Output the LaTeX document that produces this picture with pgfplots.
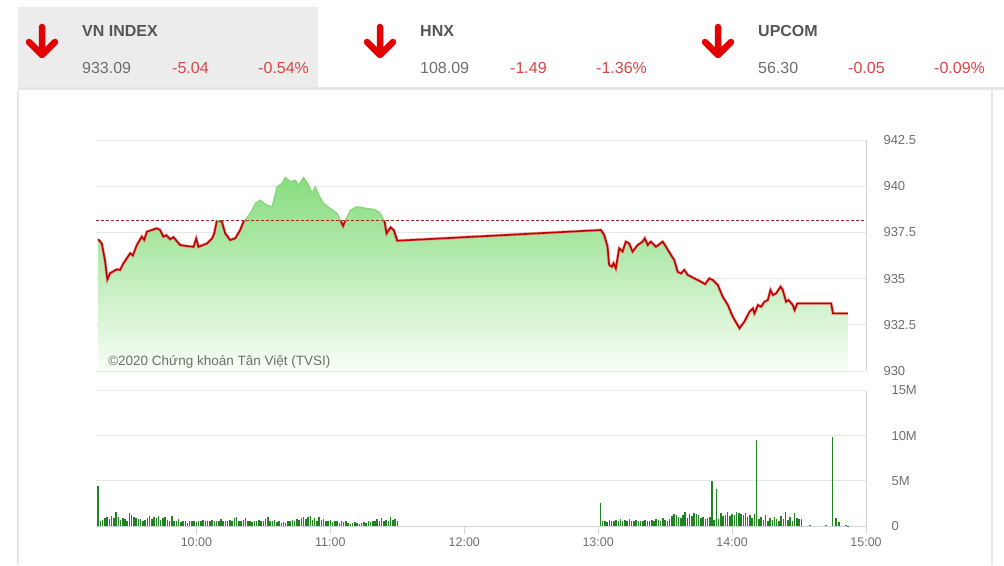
\documentclass[border=0pt]{standalone}
\usepackage{fontspec}
\setmainfont{Liberation Sans}
\usepackage{pgfplots}
\pgfplotsset{compat=1.18}
\usepackage{pgfplotstable}

\definecolor{gridgray}{RGB}{230,230,230}
\definecolor{axisgray}{RGB}{208,212,220}
\definecolor{labelgray}{RGB}{110,110,110}
\definecolor{namegray}{RGB}{85,85,85}
\definecolor{downred}{RGB}{221,68,68}
\definecolor{arrowred}{RGB}{226,0,0}
\definecolor{boxgray}{RGB}{236,236,236}
\definecolor{linered}{RGB}{190,0,0}
\definecolor{glowred}{RGB}{235,90,90}
\definecolor{edgegreen}{RGB}{125,212,115}
\definecolor{filltop}{RGB}{135,220,125}
\definecolor{fillbot}{RGB}{248,254,246}
\definecolor{volgreen}{RGB}{35,130,35}
\definecolor{refred}{RGB}{170,30,30}

% VN-Index, minutes after 9:00
\pgfplotstableread[row sep=\\]{
m v\\
16.0 937.13\\ 17.6 936.90\\ 19.0 936.00\\ 20.1 934.96\\ 21.3 935.29\\ 24.3 935.50\\
25.8 935.47\\ 27.3 935.83\\ 30.3 936.37\\ 31.5 936.25\\ 33.3 936.82\\ 35.5 937.27\\
36.6 937.10\\ 37.8 937.54\\ 40.0 937.63\\ 42.2 937.72\\ 43.7 937.63\\ 45.2 937.27\\
46.5 937.35\\ 48.2 937.13\\ 49.7 937.24\\ 52.7 936.82\\ 55.7 936.76\\ 58.7 936.72\\
59.9 937.17\\ 60.9 936.72\\ 64.7 936.90\\ 67.0 937.17\\ 68.0 937.45\\ 69.2 938.17\\
71.4 938.08\\ 72.9 937.45\\ 75.1 937.09\\ 77.4 937.18\\ 79.6 937.63\\ 81.1 938.08\\
84.1 938.53\\ 86.4 939.07\\ 88.6 939.25\\ 91.6 938.98\\ 93.9 938.89\\ 96.1 939.97\\
98.3 940.15\\ 99.8 940.48\\ 102.1 940.24\\ 104.3 940.33\\ 105.8 940.06\\ 108.0 940.48\\
110.3 940.06\\ 111.8 939.61\\ 113.3 939.97\\ 114.8 939.52\\ 117.0 939.07\\ 120.0 938.80\\
123.0 938.53\\ 124.5 938.17\\ 125.7 937.85\\ 126.8 938.17\\ 129.0 938.71\\ 132.0 938.89\\
136.5 938.80\\ 139.5 938.75\\ 141.7 938.62\\ 143.2 938.35\\ 144.3 938.08\\ 145.2 937.45\\
147.0 937.77\\ 148.4 937.63\\ 150.0 937.05\\
241.2 937.63\\ 242.7 937.36\\ 244.2 936.73\\ 244.9 935.74\\ 246.1 935.64\\ 246.9 935.83\\
247.9 935.56\\ 249.4 936.64\\ 250.9 936.46\\ 252.4 937.00\\ 253.9 936.90\\ 255.4 936.46\\
257.7 936.82\\ 259.9 937.00\\ 260.9 937.18\\ 262.2 936.82\\ 263.6 937.00\\ 265.9 936.72\\
268.9 937.00\\ 270.4 936.72\\ 272.6 936.28\\ 274.1 936.00\\ 275.6 935.37\\ 277.1 935.28\\
278.6 935.47\\ 280.1 935.20\\ 283.1 935.01\\ 286.1 934.83\\ 287.9 934.70\\ 289.8 935.01\\
291.4 934.92\\ 293.6 934.65\\ 295.8 934.02\\ 298.1 933.57\\ 300.3 932.94\\ 303.3 932.31\\
305.5 932.67\\ 307.8 933.21\\ 309.3 933.39\\ 310.0 933.12\\ 311.6 933.57\\ 313.0 933.48\\
314.5 933.75\\ 316.0 933.84\\ 317.2 934.38\\ 318.3 934.11\\ 319.7 934.20\\ 321.7 934.56\\
322.7 934.38\\ 324.2 933.75\\ 325.3 933.84\\ 327.2 933.57\\ 328.0 933.30\\ 329.2 933.66\\
344.4 933.66\\ 345.2 933.12\\ 351.9 933.12\\
}\price

% volume, millions of shares
\pgfplotstableread[row sep=\\]{
m v\\
16 4.4\\ 17 0.5\\ 18 0.7\\ 19 0.9\\ 20 1.0\\ 21 0.8\\ 22 1.1\\ 23 0.9\\ 24 1.6\\ 25 1.0\\
26 0.7\\ 27 0.9\\ 28 0.8\\ 29 0.6\\ 30 1.4\\ 31 1.2\\ 32 1.0\\ 33 0.9\\ 34 0.8\\ 35 0.8\\
36 0.6\\ 37 0.7\\ 38 0.9\\ 39 1.1\\ 40 0.8\\ 41 1.0\\ 42 0.9\\ 43 1.1\\ 44 0.7\\ 45 0.9\\
46 1.0\\ 47 0.7\\ 48 0.6\\ 49 1.1\\ 50 0.5\\ 51 0.6\\ 52 0.8\\ 53 0.4\\ 54 0.6\\ 55 0.5\\
56 0.3\\ 57 0.6\\ 58 0.5\\ 59 0.6\\ 60 0.4\\ 61 0.6\\ 62 0.5\\ 63 0.7\\ 64 0.5\\ 65 0.6\\
66 0.5\\ 67 0.7\\ 68 0.6\\ 69 0.5\\ 70 0.6\\ 71 0.8\\ 72 0.5\\ 73 0.6\\ 74 0.5\\ 75 0.7\\
76 0.6\\ 77 0.9\\ 78 1.0\\ 79 0.6\\ 80 0.5\\ 81 0.7\\ 82 0.9\\ 83 0.6\\ 84 0.5\\ 85 0.4\\
86 0.6\\ 87 0.5\\ 88 0.7\\ 89 0.6\\ 90 0.5\\ 91 0.8\\ 92 1.0\\ 93 0.6\\ 94 0.5\\ 95 0.7\\
96 0.4\\ 97 0.5\\ 98 0.3\\ 99 0.4\\ 100 0.3\\ 101 0.6\\ 102 0.5\\ 103 0.7\\ 104 0.6\\ 105 0.8\\
106 0.7\\ 107 0.9\\ 108 1.0\\ 109 0.8\\ 110 1.0\\ 111 1.1\\ 112 0.7\\ 113 0.9\\ 114 0.6\\ 115 1.0\\
116 0.7\\ 117 0.8\\ 118 0.5\\ 119 0.6\\ 120 0.7\\ 121 0.4\\ 122 0.5\\ 123 0.6\\ 124 0.3\\ 125 0.5\\
126 0.4\\ 127 0.6\\ 128 0.3\\ 129 0.2\\ 130 0.3\\ 131 0.4\\ 132 0.3\\ 133 0.2\\ 134 0.3\\ 135 0.4\\
136 0.3\\ 137 0.5\\ 138 0.4\\ 139 0.6\\ 140 0.5\\ 141 0.8\\ 142 0.6\\ 143 0.9\\ 144 0.5\\ 145 0.7\\
146 0.6\\ 147 1.0\\ 148 0.7\\ 149 0.8\\ 150 0.6\\
241 2.5\\ 242 0.5\\ 243 0.6\\ 244 0.4\\ 245 0.7\\ 246 0.5\\ 247 0.6\\ 248 0.7\\ 249 0.5\\ 250 0.8\\
251 0.6\\ 252 0.7\\ 253 0.5\\ 254 0.8\\ 255 0.6\\ 256 0.5\\ 257 0.7\\ 258 0.6\\ 259 0.5\\ 260 0.6\\
261 0.7\\ 262 0.5\\ 263 0.6\\ 264 0.7\\ 265 0.6\\ 266 0.8\\ 267 0.7\\ 268 0.6\\ 269 0.9\\ 270 0.7\\
271 0.5\\ 272 0.8\\ 273 1.1\\ 274 1.3\\ 275 1.2\\ 276 1.0\\ 277 0.9\\ 278 1.2\\ 279 1.5\\ 280 0.9\\
281 1.3\\ 282 1.1\\ 283 1.4\\ 284 1.3\\ 285 1.2\\ 286 0.9\\ 287 1.0\\ 288 0.8\\ 289 0.9\\ 290 1.0\\
291 5.0\\ 292 0.7\\ 293 4.1\\ 294 0.8\\ 295 1.4\\ 296 1.1\\ 297 1.2\\ 298 1.6\\ 299 1.1\\ 300 1.3\\
301 1.2\\ 302 1.6\\ 303 1.4\\ 304 1.3\\ 305 1.2\\ 306 1.4\\ 307 1.0\\ 308 1.2\\ 309 0.9\\ 310 1.3\\
311 9.5\\ 312 0.8\\ 313 1.0\\ 314 0.7\\ 315 1.2\\ 316 0.6\\ 317 0.9\\ 318 0.7\\ 319 1.0\\ 320 0.8\\
321 0.6\\ 322 1.1\\ 323 0.8\\ 324 1.5\\ 325 0.7\\ 326 1.0\\ 327 0.5\\ 328 1.4\\ 329 0.9\\ 330 0.8\\
331 0.8\\ 335 0.1\\ 342 0.1\\ 345 9.85\\ 346.5 0.9\\ 348 0.4\\ 351 0.1\\ 352 0.05\\
}\volume

\pgfplotsset{
  tvsi/.style={
    scale only axis, width=770bp, xmin=15, xmax=360, no markers,
    axis y line*=right, axis line style={-, draw=axisgray, line width=0.8bp},
    ymajorgrids, grid style={draw=gridgray, line width=0.8bp},
    ytick style={draw=none},
    yticklabel style={anchor=west, xshift=14bp, text=labelgray,
      font=\fontsize{13bp}{15bp}\selectfont},
  },
}

\begin{document}
\begin{tikzpicture}
\begin{scope}[x=1bp,y=-1bp]
  \path (0,0) rectangle (1004,565);
  \fill[boxgray] (18,7) rectangle (318,88);
  \fill[gridgray] (18,87) rectangle (1004,90);
  \draw[gridgray, line width=1.2bp] (18,90) -- (18,565);
  \draw[gridgray, line width=1.2bp] (992,90) -- (992,565);
  \foreach \ax in {42,380,718} {
    \draw[arrowred, line width=6.5bp, line cap=round, line join=round]
      (\ax,27) -- (\ax,53) (\ax-13,42) -- (\ax,55) -- (\ax+13,42);
  }
  \foreach \nx/\name/\val/\chg/\pct in {82/VN INDEX/933.09/-5.04/-0.54\%,
      420/HNX/108.09/-1.49/-1.36\%, 758/UPCOM/56.30/-0.05/-0.09\%} {
    \node[anchor=base west, inner sep=0, text=namegray,
      font=\fontsize{16bp}{18bp}\selectfont\bfseries] at (\nx,37) {\name};
    \node[anchor=base west, inner sep=0, text=labelgray,
      font=\fontsize{16bp}{18bp}\selectfont] at (\nx,74) {\val};
    \node[anchor=base west, inner sep=0, text=downred,
      font=\fontsize{16bp}{18bp}\selectfont] at (\nx+90,74) {\chg};
    \node[anchor=base west, inner sep=0, text=downred,
      font=\fontsize{16bp}{18bp}\selectfont] at (\nx+176,74) {\pct};
  }
\end{scope}

% price
\begin{axis}[tvsi, at={(96bp,-371bp)}, anchor=south west, height=231bp,
  ymin=930, ymax=942.5, axis x line=none,
  ytick={930,932.5,935,937.5,940,942.5},
  yticklabels={930,932.5,935,937.5,940,942.5}]
  \addplot[draw=none, top color=filltop, bottom color=fillbot]
    table {\price} -- (axis cs:351.9,930) -- (axis cs:16,930) -- cycle;
  \addplot[refred, line width=0.9bp, dash pattern=on 3bp off 2bp]
    coordinates {(15,938.13) (360,938.13)};
  \begin{scope}
    \clip (axis cs:0,920) rectangle (axis cs:400,938.13);
    \addplot[glowred, line width=3bp, opacity=0.5] table {\price};
    \addplot[linered, line width=1.6bp] table {\price};
  \end{scope}
  \begin{scope}
    \clip (axis cs:0,938.13) rectangle (axis cs:400,950);
    \addplot[edgegreen, line width=1bp] table {\price};
  \end{scope}
  \node[anchor=base west, inner sep=0, text=labelgray,
    font=\fontsize{13.5bp}{15bp}\selectfont] at (axis cs:20.4,930.3)
    {©2020 Chứng khoán Tân Việt (TVSI)};
\end{axis}

% volume
\begin{axis}[tvsi, at={(96bp,-526bp)}, anchor=south west, height=135.5bp,
  ymin=0, ymax=15, axis x line*=bottom,
  ytick={0,5,10,15}, yticklabels={0,5M,10M,15M},
  xtick={60,120,180,240,300,360},
  xticklabels={10:00,11:00,12:00,13:00,14:00,15:00},
  tick align=outside, major tick length=8bp,
  xtick style={draw=axisgray, line width=0.8bp},
  xticklabel style={text=labelgray, font=\fontsize{12.5bp}{14bp}\selectfont}]
  \addplot[ycomb, volgreen, line width=1.5bp] table {\volume};
\end{axis}
\end{tikzpicture}
\end{document}
